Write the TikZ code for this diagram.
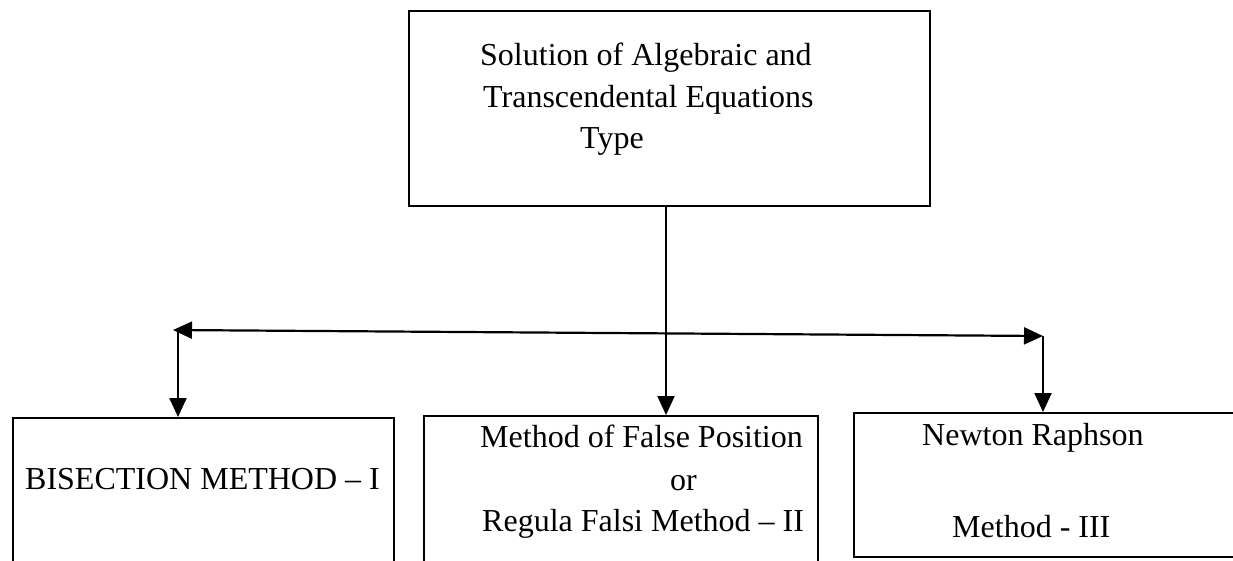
\documentclass[tikz,border=0pt]{standalone}
\usepackage{fontspec}
\setmainfont{Liberation Serif}
\usetikzlibrary{arrows.meta}
\tikzset{
  boxnode/.style={draw, line width=1.8pt, inner sep=0pt, anchor=north west},
  txt/.style={anchor=base west, inner sep=0pt, font=\fontsize{32}{40}\selectfont},
  tip/.style={Triangle[length=19pt,width=17pt]},
  arr/.style={line width=2.2pt, -{Triangle[length=19pt,width=17pt]}},
}
\begin{document}
\begin{tikzpicture}[x=1pt,y=-1pt]
\useasboundingbox (0,0) rectangle (1233,560);
\clip (0,0) rectangle (1233,560);
\fill[white] (0,0) rectangle (1233,560);
% boxes
\node[boxnode, minimum width=521pt, minimum height=195pt] (top) at (408,10) {};
\node[boxnode, minimum width=381pt, minimum height=220pt] (b1) at (12,417) {};
\node[boxnode, minimum width=394pt, minimum height=220pt] (b2) at (423,415) {};
\node[boxnode, minimum width=420pt, minimum height=144pt] (b3) at (853,412) {};
% texts
\node[txt] (t1) at (480,65) {Solution of Algebraic and};
\node[txt] (t2) at (483,107) {Transcendental Equations};
\node[txt] (t3) at (580,148) {Type};
\node[txt] (t4) at (25,489) {BISECTION METHOD – I};
\node[txt] (t5) at (480,447) {Method of False Position};
\node[txt] (t6) at (670,490) {or};
\node[txt] (t7) at (482,531) {Regula Falsi Method – II};
\node[txt] (t8) at (922,445) {Newton Raphson};
\node[txt] (t9) at (952,537) {Method - III};
% connectors
\coordinate (L) at (173,330);
\coordinate (R) at (1043,336);
\coordinate (la) at (178,331);
\coordinate (ra) at (1043,336);
\coordinate (m) at (666,205);
\draw[line width=2.2pt, {Triangle[length=19pt,width=17pt]}-{Triangle[length=19pt,width=17pt]}] (L) -- (R);
\draw[arr] (la) -- (la |- b1.north);
\draw[arr] (m) -- (m |- b2.north);
\draw[arr] (ra) -- (ra |- b3.north);
\end{tikzpicture}
\end{document}
